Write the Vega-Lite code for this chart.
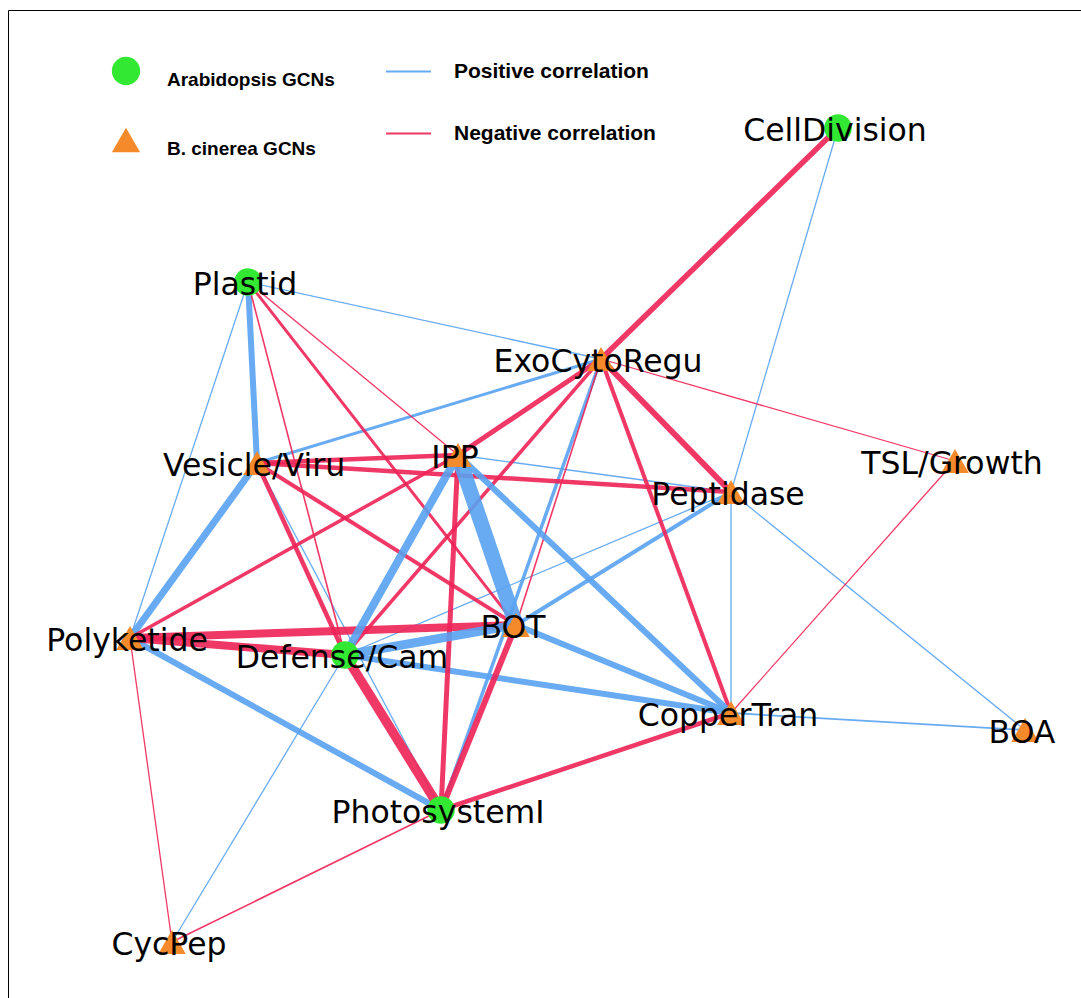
{
  "$schema": "https://vega.github.io/schema/vega-lite/v6.json",
  "width": 1081,
  "height": 998,
  "autosize": {"type": "fit", "contains": "padding"},
  "padding": {"left": 8, "top": 10, "right": 0, "bottom": 0},
  "background": "white",
  "config": {
    "view": {"stroke": null},
    "legend": {"padding": 0}
  },
  "datasets": {
    "nodes": [
      {"name": "CellDivision", "type": "Arabidopsis GCNs", "x": 838, "y": 128},
      {"name": "Plastid", "type": "Arabidopsis GCNs", "x": 248, "y": 282},
      {"name": "ExoCytoRegu", "type": "B. cinerea GCNs", "x": 601, "y": 359},
      {"name": "Vesicle/Viru", "type": "B. cinerea GCNs", "x": 257, "y": 463},
      {"name": "IPP", "type": "B. cinerea GCNs", "x": 458, "y": 455},
      {"name": "TSL/Growth", "type": "B. cinerea GCNs", "x": 955, "y": 461},
      {"name": "Peptidase", "type": "B. cinerea GCNs", "x": 731, "y": 492},
      {"name": "BOT", "type": "B. cinerea GCNs", "x": 516, "y": 625},
      {"name": "Polyketide", "type": "B. cinerea GCNs", "x": 130, "y": 638},
      {"name": "Defense/Cam", "type": "Arabidopsis GCNs", "x": 345, "y": 655},
      {"name": "CopperTran", "type": "B. cinerea GCNs", "x": 731, "y": 713},
      {"name": "BOA", "type": "B. cinerea GCNs", "x": 1025, "y": 730},
      {"name": "PhotosystemI", "type": "Arabidopsis GCNs", "x": 441, "y": 810},
      {"name": "CycPep", "type": "B. cinerea GCNs", "x": 172, "y": 942}
    ],
    "edges": [
      {"source": "CellDivision", "target": "Peptidase", "sign": "Positive correlation", "w": 1.3},
      {"source": "Plastid", "target": "ExoCytoRegu", "sign": "Positive correlation", "w": 1.3},
      {"source": "Plastid", "target": "Vesicle/Viru", "sign": "Positive correlation", "w": 6},
      {"source": "Plastid", "target": "Polyketide", "sign": "Positive correlation", "w": 1.3},
      {"source": "Vesicle/Viru", "target": "ExoCytoRegu", "sign": "Positive correlation", "w": 3},
      {"source": "Vesicle/Viru", "target": "Polyketide", "sign": "Positive correlation", "w": 7},
      {"source": "Vesicle/Viru", "target": "PhotosystemI", "sign": "Positive correlation", "w": 1.3},
      {"source": "IPP", "target": "Peptidase", "sign": "Positive correlation", "w": 1.3},
      {"source": "ExoCytoRegu", "target": "PhotosystemI", "sign": "Positive correlation", "w": 3.5},
      {"source": "Peptidase", "target": "Defense/Cam", "sign": "Positive correlation", "w": 1.3},
      {"source": "Peptidase", "target": "BOT", "sign": "Positive correlation", "w": 4},
      {"source": "Peptidase", "target": "CopperTran", "sign": "Positive correlation", "w": 1.3},
      {"source": "Peptidase", "target": "BOA", "sign": "Positive correlation", "w": 1.3},
      {"source": "CopperTran", "target": "BOA", "sign": "Positive correlation", "w": 1.8},
      {"source": "CopperTran", "target": "Defense/Cam", "sign": "Positive correlation", "w": 6},
      {"source": "CopperTran", "target": "BOT", "sign": "Positive correlation", "w": 6},
      {"source": "Polyketide", "target": "PhotosystemI", "sign": "Positive correlation", "w": 6},
      {"source": "Defense/Cam", "target": "CycPep", "sign": "Positive correlation", "w": 1.3},
      {"source": "CellDivision", "target": "ExoCytoRegu", "sign": "Negative correlation", "w": 5.5},
      {"source": "Plastid", "target": "IPP", "sign": "Negative correlation", "w": 1.3},
      {"source": "Plastid", "target": "Defense/Cam", "sign": "Negative correlation", "w": 1.6},
      {"source": "Plastid", "target": "BOT", "sign": "Negative correlation", "w": 3},
      {"source": "ExoCytoRegu", "target": "TSL/Growth", "sign": "Negative correlation", "w": 1.3},
      {"source": "ExoCytoRegu", "target": "IPP", "sign": "Negative correlation", "w": 5},
      {"source": "ExoCytoRegu", "target": "Defense/Cam", "sign": "Negative correlation", "w": 3.5},
      {"source": "ExoCytoRegu", "target": "BOT", "sign": "Negative correlation", "w": 1.6},
      {"source": "ExoCytoRegu", "target": "Peptidase", "sign": "Negative correlation", "w": 6},
      {"source": "ExoCytoRegu", "target": "CopperTran", "sign": "Negative correlation", "w": 4},
      {"source": "Vesicle/Viru", "target": "IPP", "sign": "Negative correlation", "w": 4.5},
      {"source": "Vesicle/Viru", "target": "Peptidase", "sign": "Negative correlation", "w": 4.5},
      {"source": "Vesicle/Viru", "target": "Defense/Cam", "sign": "Negative correlation", "w": 4.5},
      {"source": "Vesicle/Viru", "target": "BOT", "sign": "Negative correlation", "w": 4},
      {"source": "Polyketide", "target": "IPP", "sign": "Negative correlation", "w": 3.5},
      {"source": "Polyketide", "target": "BOT", "sign": "Negative correlation", "w": 8},
      {"source": "Polyketide", "target": "Defense/Cam", "sign": "Negative correlation", "w": 8},
      {"source": "Polyketide", "target": "CycPep", "sign": "Negative correlation", "w": 1.3},
      {"source": "Defense/Cam", "target": "PhotosystemI", "sign": "Negative correlation", "w": 9.5},
      {"source": "IPP", "target": "PhotosystemI", "sign": "Negative correlation", "w": 5},
      {"source": "BOT", "target": "PhotosystemI", "sign": "Negative correlation", "w": 6},
      {"source": "CopperTran", "target": "PhotosystemI", "sign": "Negative correlation", "w": 4.5},
      {"source": "CopperTran", "target": "TSL/Growth", "sign": "Negative correlation", "w": 1.3},
      {"source": "CycPep", "target": "PhotosystemI", "sign": "Negative correlation", "w": 1.6},
      {"source": "IPP", "target": "Defense/Cam", "sign": "Positive correlation", "w": 8},
      {"source": "IPP", "target": "CopperTran", "sign": "Positive correlation", "w": 6},
      {"source": "Defense/Cam", "target": "BOT", "sign": "Positive correlation", "w": 9},
      {"source": "IPP", "target": "BOT", "sign": "Positive correlation", "w": 15}
    ]
  },
  "layer": [
    {
      "data": {"name": "edges"},
      "transform": [
        {"lookup": "source", "from": {"data": {"name": "nodes"}, "key": "name", "fields": ["x", "y"]}, "as": ["sx", "sy"]},
        {"lookup": "target", "from": {"data": {"name": "nodes"}, "key": "name", "fields": ["x", "y"]}, "as": ["tx", "ty"]}
      ],
      "mark": {"type": "rule", "opacity": 0.9, "strokeCap": "butt"},
      "encoding": {
        "x": {"field": "sx", "type": "quantitative", "scale": {"domain": [8, 1081], "nice": false, "zero": false},
              "axis": {"orient": "top", "domain": true, "domainColor": "black", "domainWidth": 1, "ticks": false, "labels": false, "grid": false, "title": null}},
        "y": {"field": "sy", "type": "quantitative", "scale": {"domain": [10, 998], "nice": false, "zero": false, "reverse": true},
              "axis": {"orient": "left", "domain": true, "domainColor": "black", "domainWidth": 1, "ticks": false, "labels": false, "grid": false, "title": null}},
        "x2": {"field": "tx"},
        "y2": {"field": "ty"},
        "stroke": {"field": "sign", "type": "nominal",
                  "scale": {"domain": ["Positive correlation", "Negative correlation"], "range": ["#58a2f1", "#ee2256"]},
                  "legend": {"orient": "none", "legendX": 377, "legendY": 38, "title": null, "symbolType": "stroke", "symbolSize": 2025, "symbolStrokeWidth": 2, "rowPadding": 28, "labelOffset": 22, "labelFont": "Liberation Sans", "labelFontWeight": "bold", "labelFontSize": 21, "labelColor": "black", "labelLimit": 400}},
        "strokeWidth": {"field": "w", "type": "quantitative", "scale": null}
      }
    },
    {
      "data": {"name": "nodes"},
      "mark": {"type": "point", "filled": true, "opacity": 1, "size": 760},
      "encoding": {
        "x": {"field": "x", "type": "quantitative", "scale": {"domain": [8, 1081], "nice": false, "zero": false}},
        "y": {"field": "y", "type": "quantitative", "scale": {"domain": [10, 998], "nice": false, "zero": false, "reverse": true}},
        "fill": {"field": "type", "type": "nominal",
                  "scale": {"domain": ["Arabidopsis GCNs", "B. cinerea GCNs"], "range": ["#33e833", "#f58a2b"]},
                  "legend": {"orient": "none", "legendX": 103, "legendY": 46, "title": null, "symbolSize": 800, "rowPadding": 34, "labelOffset": 26, "labelFont": "Liberation Sans", "labelFontWeight": "bold", "labelFontSize": 19, "labelBaseline": "top", "labelColor": "black", "labelLimit": 400}},
        "shape": {"field": "type", "type": "nominal",
                  "scale": {"domain": ["Arabidopsis GCNs", "B. cinerea GCNs"], "range": ["circle", "triangle-up"]},
                  "legend": {"orient": "none", "legendX": 103, "legendY": 46, "title": null, "symbolSize": 800, "rowPadding": 34, "labelOffset": 26, "labelFont": "Liberation Sans", "labelFontWeight": "bold", "labelFontSize": 19, "labelBaseline": "top", "labelColor": "black", "labelLimit": 400}}
      }
    },
    {
      "data": {"name": "nodes"},
      "mark": {"type": "text", "font": "DejaVu Sans", "fontSize": 31.5, "align": "center", "baseline": "middle", "dx": -3, "dy": 4, "color": "black"},
      "encoding": {
        "x": {"field": "x", "type": "quantitative", "scale": {"domain": [8, 1081], "nice": false, "zero": false}},
        "y": {"field": "y", "type": "quantitative", "scale": {"domain": [10, 998], "nice": false, "zero": false, "reverse": true}},
        "text": {"field": "name"}
      }
    }
  ]
}
